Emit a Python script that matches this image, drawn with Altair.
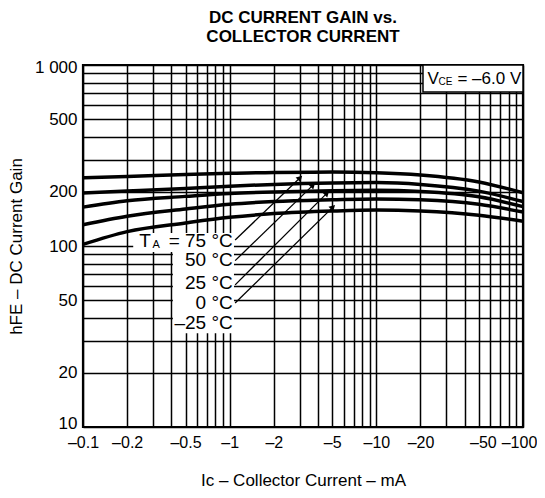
import altair as alt
import pandas as pd

FONT = "Liberation Sans"

# ---- data ----
currents = [0.1, 0.2, 0.5, 1, 2, 5, 10, 20, 50, 100]          # |Ic| in mA
gain_75 = [238, 242, 248, 252, 255, 256, 254, 247, 226, 197]
gain_50 = [196, 201, 208, 214, 219, 223, 224, 219, 201, 176]
gain_25 = [164, 178, 188, 195, 199, 202, 203, 200, 187, 165]
gain_0 = [131, 146, 160, 170, 176, 180, 182, 180, 170, 154]
gain_m25 = [102, 120, 134, 144, 151, 156, 158, 156, 148, 137]
temps = ["75", "50", "25", "0", "-25"]

x_grid_values = [0.1, 0.2, 0.3, 0.4, 0.5, 0.6, 0.7, 0.8, 0.9,
                 1, 2, 3, 4, 5, 6, 7, 8, 9,
                 10, 20, 30, 40, 50, 60, 70, 80, 90, 100]
x_label_values = [0.1, 0.2, 0.5, 1, 2, 5, 10, 20, 50, 100]
x_tick_labels = ["–0.1", "–0.2", "–0.5", "–1", "–2", "–5", "–10", "–20", "–50", "–100"]

y_grid_values = [10, 20, 30, 40, 50, 60, 70, 80, 90,
                 100, 200, 300, 400, 500, 600, 700, 800, 900, 1000]
y_label_values = [10, 20, 50, 100, 200, 500, 1000]
y_tick_labels = ["10", "20", "50", "100", "200", "500", "1 000"]

# temperature labels
label_texts = ["= 75 °C", "50 °C", "25 °C", "0 °C", "–25 °C"]
label_x = [1.05, 1.05, 1.05, 1.05, 1.05]
label_y = [106.6, 83.7, 62.5, 48.4, 37.6]

# leader lines (label -> curve)
lead_x0 = [1.09, 1.09, 1.09, 1.09]
lead_y0 = [108, 83, 61, 48.4]
lead_x1 = [3.02, 3.70, 4.61, 5.06]
lead_y1 = [238, 217, 196, 164]

# white backgrounds behind labels
bg_x0 = [0.41, 0.22]
bg_x1 = [1.07, 1.07]
bg_y0 = [33, 92.6]
bg_y1 = [95, 118]

# Vce box
vce_box_x = [20.8, 100]
vce_box_y = [710, 1000]
vce_text_x = 22.3
vce_text_y = 841

# ---- tables ----
rows = []
for t, g in zip(temps, [gain_75, gain_50, gain_25, gain_0, gain_m25]):
    for c, v in zip(currents, g):
        rows.append({"ic": c, "hfe": v, "temp": t})
curves_df = pd.DataFrame(rows)
labels_df = pd.DataFrame({"x": label_x, "y": label_y, "t": label_texts})
lead_df = pd.DataFrame({"x": lead_x0, "y": lead_y0, "x2": lead_x1, "y2": lead_y1})
bg_df = pd.DataFrame({"x": bg_x0, "x2": bg_x1, "y": bg_y0, "y2": bg_y1})
box_df = pd.DataFrame({"x": [vce_box_x[0]], "x2": [vce_box_x[1]],
                       "y": [vce_box_y[0]], "y2": [vce_box_y[1]]})
vce_df = pd.DataFrame({"x": [vce_text_x], "y": [vce_text_y]})
ta_df = pd.DataFrame({"x": [label_x[0]], "y": [label_y[0]]})


def expr(values, labels):
    s = "''"
    for v, l in reversed(list(zip(values, labels))):
        s = f"datum.value == {v} ? '{l}' : ({s})"
    return s


x_scale = alt.Scale(type="log", domain=[0.1, 100], nice=False)
y_scale = alt.Scale(type="log", domain=[10, 1000], nice=False)

x_axis = alt.Axis(values=x_grid_values, labelExpr=expr(x_label_values, x_tick_labels),
                  grid=True, gridColor="black", gridWidth=1.5, gridOpacity=1,
                  ticks=False, domain=False, labelOverlap=False, labelFlush=False,
                  labelFont=FONT, labelFontSize=16, labelColor="black", labelPadding=7,
                  labelOffset={"condition": [{"test": "datum.value == 50", "value": 4},
                                             {"test": "datum.value == 100", "value": -4}],
                               "value": 0},
                  title="Ic – Collector Current – mA", titleFont=FONT, titleFontSize=17,
                  titleFontWeight="normal", titleColor="black", titleY=45,
                  titleBaseline="top")
y_axis = alt.Axis(values=y_grid_values, labelExpr=expr(y_label_values, y_tick_labels),
                  grid=True, gridColor="black", gridWidth=1.5, gridOpacity=1,
                  ticks=False, domain=False, labelOverlap=False, labelFlush=False,
                  labelFont=FONT, labelFontSize=17, labelColor="black", labelPadding=6,
                  labelOffset={"condition": [{"test": "datum.value == 10", "value": -4},
                                             {"test": "datum.value == 1000", "value": 2}],
                               "value": 0},
                  title="hFE – DC Current Gain", titleFont=FONT, titleFontSize=17,
                  titleFontWeight="normal", titleColor="black", titleX=-75, titleY=181,
                  titleAngle=-90, titleAlign="center", titleBaseline="top")


def X(field):
    return alt.X(field, type="quantitative", scale=x_scale, axis=x_axis)


def Y(field):
    return alt.Y(field, type="quantitative", scale=y_scale, axis=y_axis)


curves = alt.Chart(curves_df).mark_line(color="black", strokeWidth=3.5,
                                        interpolate="monotone").encode(
    x=X("ic"), y=Y("hfe"), detail="temp:N",
)

bg = alt.Chart(bg_df).mark_rect(color="white").encode(
    x=X("x"), x2="x2:Q", y=Y("y"), y2="y2:Q",
)

box = alt.Chart(box_df).mark_rect(fill="white", stroke="black", strokeWidth=1.5).encode(
    x=X("x"), x2="x2:Q", y=Y("y"), y2="y2:Q",
)

leaders = alt.Chart(lead_df).mark_rule(color="black", strokeWidth=1.3).encode(
    x=X("x"), x2="x2:Q", y=Y("y"), y2="y2:Q",
)

heads = alt.Chart(lead_df).mark_point(shape="triangle-up", filled=True, color="black",
                                      size=45, angle=46, opacity=1).encode(
    x=X("x2"), y=Y("y2"),
)

labels = alt.Chart(labels_df).mark_text(font=FONT, fontSize=19, align="right",
                                        baseline="middle", color="black").encode(
    x=X("x"), y=Y("y"), text="t:N",
)

ta_T = alt.Chart(ta_df).mark_text(font=FONT, fontSize=19, align="right", baseline="middle",
                                  color="black", dx=-82, text="T").encode(
    x=X("x"), y=Y("y"),
)
ta_A = alt.Chart(ta_df).mark_text(font=FONT, fontSize=11, align="right", baseline="middle",
                                  color="black", dx=-73, dy=4, text="A").encode(
    x=X("x"), y=Y("y"),
)

vce_V = alt.Chart(vce_df).mark_text(font=FONT, fontSize=17, align="left", baseline="middle",
                                    color="black", text="V").encode(
    x=X("x"), y=Y("y"),
)
vce_CE = alt.Chart(vce_df).mark_text(font=FONT, fontSize=10, align="left", baseline="middle",
                                     color="black", dx=11, dy=3, text="CE").encode(
    x=X("x"), y=Y("y"),
)
vce_rest = alt.Chart(vce_df).mark_text(font=FONT, fontSize=17, align="left", baseline="middle",
                                       color="black", dx=30, text="= –6.0 V").encode(
    x=X("x"), y=Y("y"),
)

chart = alt.layer(
    curves, bg, box, leaders, heads, labels, ta_T, ta_A, vce_V, vce_CE, vce_rest
).properties(
    width=440, height=362,
    autosize=alt.AutoSizeParams(type="none"),
    padding={"left": 75, "top": 57, "right": 14, "bottom": 63},
    background="white",
    title=alt.TitleParams(["DC CURRENT GAIN vs.", "COLLECTOR CURRENT"], font=FONT,
                          fontSize=17, fontWeight="bold", color="black", anchor="middle",
                          offset=12, lineHeight=19),
).configure_view(stroke="black", strokeWidth=2.2)

chart.save("out.html", embed_options={"renderer": "svg", "actions": False})
